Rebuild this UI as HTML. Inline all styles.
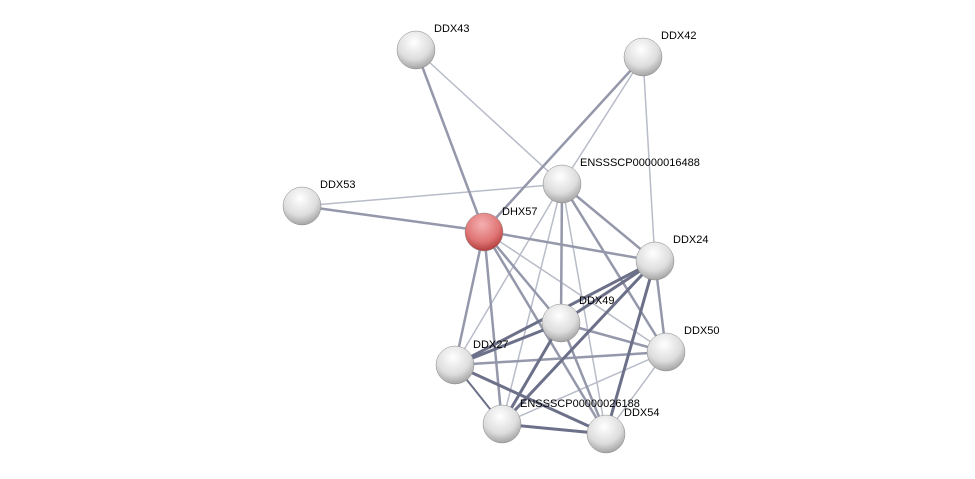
<html><head><style>body{margin:0;background:#fff;width:975px;height:479px;overflow:hidden}text{font-family:"Liberation Sans",sans-serif;font-size:11px;fill:#000}</style></head><body>
<svg width="975" height="479" xmlns="http://www.w3.org/2000/svg">
<defs>
<radialGradient id="g" cx="0.45" cy="0.3" r="0.75"><stop offset="0" stop-color="#fff"/><stop offset="0.6" stop-color="#ddd"/><stop offset="1" stop-color="#999"/></radialGradient>
<radialGradient id="r" cx="0.45" cy="0.3" r="0.75"><stop offset="0" stop-color="#f4b0b0"/><stop offset="0.6" stop-color="#e07575"/><stop offset="1" stop-color="#a33"/></radialGradient>
</defs>
<g stroke-linecap="round">
<g stroke="#b8bcc8" stroke-width="1.5">
<line x1="416" y1="50" x2="562" y2="184"/><line x1="643" y1="57" x2="562" y2="184"/><line x1="643" y1="57" x2="655" y2="261"/>
<line x1="302" y1="206" x2="562" y2="184"/><line x1="562" y1="184" x2="455" y2="365"/><line x1="562" y1="184" x2="606" y2="434"/>
<line x1="562" y1="184" x2="502" y2="424"/><line x1="484" y1="231" x2="666" y2="352"/><line x1="502" y1="424" x2="666" y2="352"/><line x1="606" y1="434" x2="666" y2="352"/><line x1="561" y1="323" x2="502" y2="424"/>
</g>
<g stroke="#9498aa" stroke-width="2.5">
<line x1="416" y1="50" x2="484" y2="231"/><line x1="643" y1="57" x2="484" y2="231"/><line x1="302" y1="206" x2="484" y2="231"/>
<line x1="484" y1="231" x2="655" y2="261"/><line x1="562" y1="184" x2="655" y2="261"/><line x1="562" y1="184" x2="561" y2="323"/><line x1="562" y1="184" x2="666" y2="352"/>
<line x1="484" y1="231" x2="455" y2="365"/><line x1="484" y1="231" x2="502" y2="424"/><line x1="484" y1="231" x2="561" y2="323"/><line x1="484" y1="231" x2="606" y2="434"/>
<line x1="455" y1="365" x2="666" y2="352"/><line x1="561" y1="323" x2="666" y2="352"/><line x1="655" y1="261" x2="666" y2="352"/><line x1="561" y1="323" x2="606" y2="434"/>
</g>
<g stroke="#6c7088" stroke-width="3">
<line x1="561" y1="323" x2="655" y2="261"/><line x1="455" y1="365" x2="655" y2="261"/><line x1="455" y1="365" x2="561" y2="323"/><line x1="502" y1="424" x2="655" y2="261"/>
<line x1="606" y1="434" x2="655" y2="261"/><line x1="502" y1="424" x2="561" y2="323"/><line x1="455" y1="365" x2="606" y2="434"/><line x1="502" y1="424" x2="606" y2="434"/><line x1="455" y1="365" x2="502" y2="424" stroke-width="2"/>
</g>
</g>
<g stroke="#888" stroke-width="0.5">
<circle cx="416" cy="50" r="19" fill="url(#g)"/><circle cx="643" cy="57" r="19" fill="url(#g)"/><circle cx="302" cy="206" r="19" fill="url(#g)"/>
<circle cx="562" cy="184" r="19" fill="url(#g)"/><circle cx="484" cy="232" r="19" fill="url(#r)"/><circle cx="655" cy="261" r="19" fill="url(#g)"/>
<circle cx="561" cy="323" r="19" fill="url(#g)"/><circle cx="666" cy="352" r="19" fill="url(#g)"/><circle cx="455" cy="365" r="19" fill="url(#g)"/>
<circle cx="502" cy="424" r="19" fill="url(#g)"/><circle cx="606" cy="434" r="19" fill="url(#g)"/>
</g>
<text x="434" y="32">DDX43</text><text x="661" y="39">DDX42</text><text x="320" y="188">DDX53</text>
<text x="580" y="166">ENSSSCP00000016488</text><text x="502" y="215">DHX57</text><text x="673" y="243">DDX24</text>
<text x="579" y="304">DDX49</text><text x="684" y="334">DDX50</text><text x="473" y="348">DDX27</text>
<text x="520" y="407">ENSSSCP00000026188</text><text x="624" y="416">DDX54</text>
</svg></body></html>
